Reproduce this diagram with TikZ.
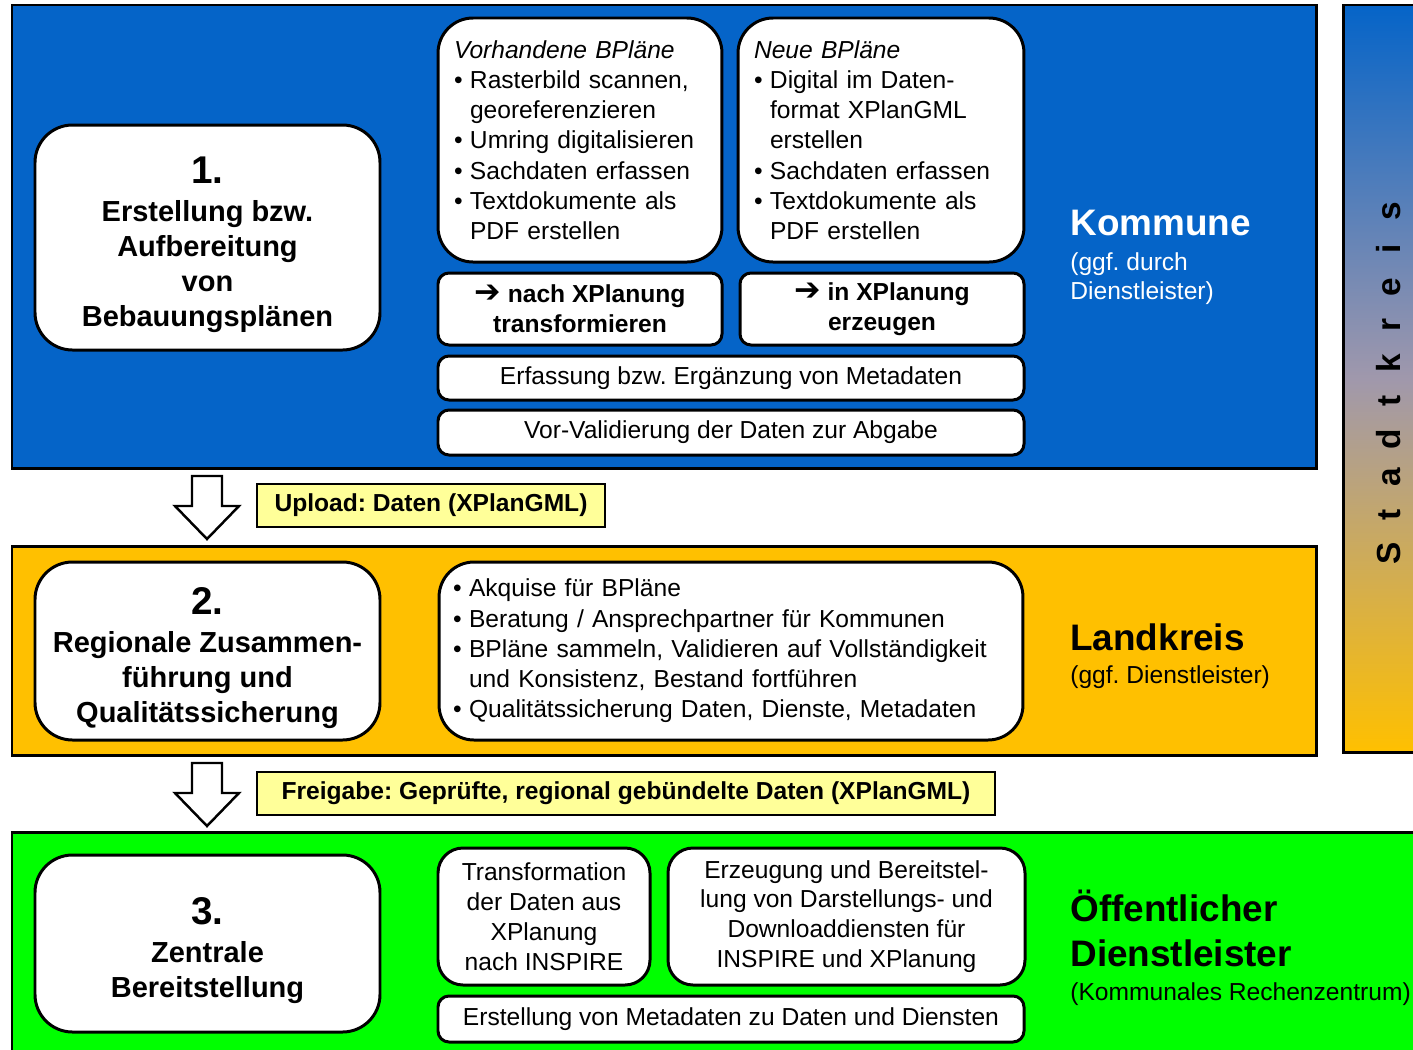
\documentclass[tikz,border=0pt]{standalone}
\usepackage{fontspec}
\setmainfont{Liberation Sans}
\newfontfamily\arrowfont{DejaVu Sans}
\usetikzlibrary{positioning}
\frenchspacing

\definecolor{kblue}{RGB}{5,100,200}
\definecolor{kgold}{RGB}{255,192,0}
\definecolor{kgreen}{RGB}{0,255,0}
\definecolor{kyellow}{RGB}{255,255,153}
\definecolor{kmauve}{RGB}{160,152,172}

\newcommand\itm{\makebox[0.65em][l]{\textbullet}}
\newcommand\indt{\hspace*{0.65em}}
\newcommand\harrow{{\arrowfont\mdseries\fontsize{18}{17}\selectfont ➔}}
\newcommand\stepnum[1]{{\fontsize{22}{26}\selectfont\rule{0pt}{1.05em}#1}}

\begin{document}
\begin{tikzpicture}[x=0.02cm,y=-0.02cm,
		boxw/.style={minimum width=#1*0.02cm},
		boxh/.style={minimum height=#1*0.02cm},
		band/.style={draw=black,line width=1.7pt},
		stepbox/.style={draw,line width=1.7pt,fill=white,rounded corners=0.75cm,align=center,font=\fontsize{16.5}{19.8}\selectfont\bfseries},
		listbox/.style={draw,line width=1.7pt,fill=white,rounded corners=0.7cm,align=left,inner xsep=0.32cm,font=\fontsize{14}{17.2}\selectfont},
		textbox/.style={draw,line width=1.7pt,fill=white,rounded corners=0.5cm,align=center,font=\fontsize{14}{17}\selectfont},
		barbox/.style={draw,line width=1.7pt,fill=white,rounded corners=0.22cm,align=center,font=\fontsize{14}{17}\selectfont},
		tagbox/.style={draw,line width=0.9pt,fill=kyellow,font=\fontsize{14}{17}\selectfont\bfseries},
		hollow/.style={draw,line width=1.4pt,fill=white,line join=miter},
		sidetitle/.style={anchor=base west,inner sep=0pt,font=\fontsize{21}{25}\selectfont\bfseries},
		sidenote/.style={anchor=base west,inner sep=0pt,font=\fontsize{14}{17}\selectfont}]
		\useasboundingbox (0,0) rectangle (1413,1049);
		\clip (0,0) rectangle (1413,1049);

		\draw[band,fill=kblue] (12,5) rectangle (1316,468);
		\draw[band,fill=kgold] (12,546) rectangle (1316,755);
		\draw[band,fill=kgreen] (12,832) rectangle (1440,1070);
		\draw[band,top color=kblue,bottom color=kgold,middle color=kmauve] (1343,5) rectangle (1440,752);

		\foreach \c [count=\i] in {S,t,a,d,t,k,r,e,i,s}
			\draw (1400,591-38*\i) node [rotate=90,anchor=base,inner sep=0pt,font=\fontsize{19}{22}\selectfont\bfseries] (sk\i) {\c};

		\draw (207.5,237.5) node [stepbox,boxw=345,boxh=225] (step1){\stepnum{1.}\\[2pt]Erstellung bzw.\\Aufbereitung\\von\\Bebauungsplänen};
		\draw (207.5,651) node [stepbox,boxw=345,boxh=178] (step2){\stepnum{2.}\\[2pt]Regionale Zusammen-\\führung und\\Qualitätssicherung};
		\draw (207.5,943.5) node [stepbox,boxw=345,boxh=177] (step3){\stepnum{3.}\\[2pt]Zentrale\\Bereitstellung};

		\draw (580,140) node [listbox,text width=5.04cm,boxh=244] (vorh){\textit{Vorhandene BPläne}\\
			\itm Rasterbild scannen,\\ \indt georeferenzieren\\ \itm Umring digitalisieren\\
			\itm Sachdaten erfassen\\ \itm Textdokumente als\\ \indt PDF erstellen};
		\draw (881,140) node [listbox,text width=5.08cm,boxh=244] (neue){\textit{Neue BPläne}\\
			\itm Digital im Daten-\\ \indt format XPlanGML\\ \indt erstellen\\
			\itm Sachdaten erfassen\\ \itm Textdokumente als\\ \indt PDF erstellen};
		\draw (580,309) node [barbox,boxw=284,boxh=72,font=\fontsize{14}{17}\selectfont\bfseries] (nach){\harrow{} nach XPlanung\\transformieren};
		\draw (882,309) node [barbox,boxw=284,boxh=72,font=\fontsize{14}{17}\selectfont\bfseries] (inxp){\harrow{} in XPlanung\\erzeugen};
		\draw (731,378) node [barbox,boxw=586,boxh=44] (erf){Erfassung bzw. Ergänzung von Metadaten};
		\draw (731,432.5) node [barbox,boxw=586,boxh=45] (vorval){Vor-Validierung der Daten zur Abgabe};

		\draw (731,651) node [listbox,text width=11.12cm,boxh=178,inner xsep=0.28cm] (akq){\itm Akquise für BPläne\\
			\itm Beratung / Ansprechpartner für Kommunen\\
			\itm BPläne sammeln, Validieren auf Vollständigkeit\\ \indt und Konsistenz, Bestand fortführen\\
			\itm Qualitätssicherung Daten, Dienste, Metadaten};

		\draw (544,916.5) node [textbox,boxw=212,boxh=137] (trans){Transformation\\der Daten aus\\XPlanung\\nach INSPIRE};
		\draw (846.5,916.5) node [textbox,boxw=357,boxh=137] (erz){Erzeugung und Bereitstel-\\lung von Darstellungs- und\\Downloaddiensten für\\INSPIRE und XPlanung};
		\draw (731,1019) node [barbox,boxw=586,boxh=46] (erst){Erstellung von Metadaten zu Daten und Diensten};

		\draw (1070,235) node [sidetitle,text=white] (komm){Kommune};
		\draw (1070,270) node [sidenote,text=white] (komm1){(ggf. durch};
		\draw (1070,299) node [sidenote,text=white] (komm2){Dienstleister)};
		\draw (1070,650) node [sidetitle] (land){Landkreis};
		\draw (1070,683) node [sidenote] (land1){(ggf. Dienstleister)};
		\draw (1070,921) node [sidetitle] (oeff){Öffentlicher};
		\draw (1070,966) node [sidetitle] (oeff1){Dienstleister};
		\draw (1070,1000) node [sidenote] (oeff2){(Kommunales Rechenzentrum)};

		\coordinate (arr1) at (207,476);
		\coordinate (arr2) at (207,763);
		\draw[hollow] (arr1) ++(-15,0) -- ++(30,0) -- ++(0,30) -- ++(17,0) -- ++(-32,33) -- ++(-32,-33) -- ++(17,0) -- cycle;
		\draw[hollow] (arr2) ++(-15,0) -- ++(30,0) -- ++(0,30) -- ++(17,0) -- ++(-32,33) -- ++(-32,-33) -- ++(17,0) -- cycle;
		\draw (431,505.5) node [tagbox,boxw=348,boxh=43] (upl){Upload: Daten (XPlanGML)};
		\draw (626,793.5) node [tagbox,boxw=738,boxh=43] (frei){Freigabe: Geprüfte, regional gebündelte Daten (XPlanGML)};
	\end{tikzpicture}
\end{document}
